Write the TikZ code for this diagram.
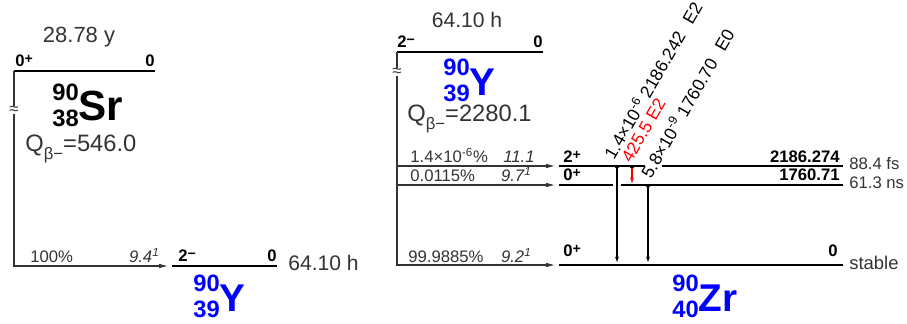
\documentclass[tikz,border=0pt]{standalone}
\usepackage{fontspec}
\setmainfont{Liberation Sans}
\usetikzlibrary{arrows.meta}
\definecolor{txtgray}{gray}{0.2}
\definecolor{nucblue}{RGB}{0,0,255}
\newcommand{\nucl}[4][22]{{\fontsize{13.5}{15}\selectfont\bfseries\vbox{\hbox{#2}\hbox{#3}}}\raisebox{3.5pt}{\fontsize{#1}{#1}\selectfont\bfseries #4}}
\newcommand{\qbeta}[1]{Q\raisebox{-0.3em}{\fontsize{9.5}{10}\selectfont β−}=#1}
\newcommand{\jpi}[2]{#1\raisebox{2pt}{\fontsize{8}{8}\selectfont #2}}

\begin{document}
\begin{tikzpicture}[
    x=0.02cm, y=0.02cm,
    every node/.style={font=\fontsize{9.5}{11}\selectfont, text=txtgray, inner sep=0pt},
    level/.style={line width=1.7pt},
    exlevel/.style={line width=0.7pt},
    feed/.style={line width=0.6pt, draw=txtgray, -{Latex[length=5pt,width=2.6pt]}},
    gam/.style={line width=0.6pt, -{Latex[length=3.5pt,width=2.2pt]}},
    spin/.style={font=\fontsize{9.5}{11}\selectfont\bfseries, text=black},
    halflife/.style={font=\fontsize{12.5}{13}\selectfont},
    glabel/.style={rotate=60, anchor=base west, font=\fontsize{10}{12}\selectfont, text=black}
]
\useasboundingbox (0,0) rectangle (907,324);

% 90Sr -> 90Y
\coordinate (srL) at (14,253);
\coordinate (srR) at (155,253);
\coordinate (yL) at (172,58);
\coordinate (yR) at (277,58);
\coordinate (arrY) at (168,58);
\draw[level] (srL) -- (srR);
\draw[feed] (srL) |- (arrY);
\draw[level] (yL) -- (yR);
\node[fill=white] (brkL) at (14,214) {≈};
\node[halflife, anchor=base] (srhl) at (79,281) {28.78 y};
\node[spin, anchor=base west] (srj) at (15,257) {\jpi{0}{+}};
\node[spin, anchor=base east] (sre) at (155,257) {0};
\node[anchor=base west, text=black] (srnuc) at (52,197) {\nucl[24]{90}{38}{Sr}};
\node[anchor=base west, font=\fontsize{13.5}{14}\selectfont] (srq) at (25,172) {\qbeta{546.0}};
\node[anchor=base west] (srbr) at (30,61) {100\%};
\node[anchor=base east, font=\fontsize{9.5}{11}\selectfont\itshape] (srft) at (160,61) {9.4\textsuperscript{1}};
\node[spin, anchor=base west] (yj) at (178,62) {\jpi{2}{−}};
\node[spin, anchor=base east] (ye) at (277,62) {0};
\node[halflife, font=\fontsize{12}{13}\selectfont, anchor=base west] (yhl) at (288,53) {64.10 h};
\node[anchor=base west, text=nucblue] (ynuc) at (193,6) {\nucl{90}{39}{Y}};

% 90Y -> 90Zr
\coordinate (ypL) at (397,272);
\coordinate (ypR) at (543,272);
\coordinate (l2L) at (559,158);
\coordinate (l2R) at (843,158);
\coordinate (l0L) at (559,139);
\coordinate (l0R) at (843,139);
\coordinate (gsL) at (559,59);
\coordinate (gsR) at (843,59);
\coordinate (a2) at (555,158);
\coordinate (a0) at (555,139);
\coordinate (ags) at (555,59);
\draw[level] (ypL) -- (ypR);
\draw[feed] (ypL) |- (ags);
\draw[feed] (ypL |- a2) -- (a2);
\draw[feed] (ypL |- a0) -- (a0);
\draw[exlevel] (l2L) -- (645,158);
\draw[exlevel] (662,158) -- (l2R);
\draw[exlevel] (l0L) -- (613,139);
\draw[exlevel] (621,139) -- (l0R);
\draw[level] (gsL) -- (gsR);
\node[fill=white] (brkR) at (397,252) {≈};
\node[font=\fontsize{12}{13}\selectfont, anchor=base] (yphl) at (467,296) {64.10 h};
\node[spin, anchor=base west] (ypj) at (397,276) {\jpi{2}{−}};
\node[spin, anchor=base east] (ype) at (543,276) {0};
\node[anchor=base west, text=nucblue] (ypnuc) at (443,222) {\nucl{90}{39}{Y}};
\node[anchor=base west, font=\fontsize{13.5}{14}\selectfont] (ypq) at (407,202) {\qbeta{2280.1}};

% feeding
\node[anchor=base west] (br2) at (410,161) {1.4×10\textsuperscript{-6}\%};
\node[anchor=base east, font=\fontsize{9.5}{11}\selectfont\itshape] (ft2) at (535,161) {11.1};
\node[anchor=base west] (br0) at (410,142) {0.0115\%};
\node[anchor=base east, font=\fontsize{9.5}{11}\selectfont\itshape] (ft0) at (532,142) {9.7\textsuperscript{1}};
\node[anchor=base west] (brgs) at (408,61) {99.9885\%};
\node[anchor=base east, font=\fontsize{9.5}{11}\selectfont\itshape] (ftgs) at (532,61) {9.2\textsuperscript{1}};

% levels of 90Zr
\node[spin, anchor=base west] (j2) at (563,161) {\jpi{2}{+}};
\node[spin, anchor=base west] (j0) at (563,143) {\jpi{0}{+}};
\node[spin, anchor=base west] (jgs) at (563,67) {\jpi{0}{+}};
\node[spin, anchor=base east] (e2) at (840,161) {2186.274};
\node[spin, anchor=base east] (e0) at (840,143) {1760.71};
\node[spin, anchor=base east] (egs) at (838,67) {0};
\node[anchor=west] (t2) at (849,160) {88.4 fs};
\node[anchor=west] (t0) at (849,141) {61.3 ns};
\node[anchor=west, font=\fontsize{10.5}{12}\selectfont] (tgs) at (849,61) {stable};
\node[anchor=base west, text=nucblue] (zrnuc) at (672,6) {\nucl{90}{40}{Zr}};

% gammas
\coordinate (g1t) at (617,158);
\coordinate (g1b) at (617,61);
\coordinate (g2t) at (632,158);
\coordinate (g2b) at (632,140);
\coordinate (g3t) at (648,139);
\coordinate (g3b) at (648,61);
\draw[gam] (g1t) -- (g1b);
\draw[gam, red] (g2t) -- (g2b);
\draw[gam] (g3t) -- (g3b);
\foreach \g in {g1t,g2t,g3t}
  \fill ([xshift=-1.4pt]\g) arc[start angle=180, end angle=360, radius=1.4pt];
\node[glabel] (gl1) at (614,163) {1.4×10\textsuperscript{-6} 2186.242\hspace{0.7em}E2};
\node[glabel, text=red] (gl2) at (631,160) {425.5 E2};
\node[glabel] (gl3) at (651,144) {5.8×10\textsuperscript{-9} 1760.70\hspace{0.7em}E0};
\end{tikzpicture}
\end{document}
